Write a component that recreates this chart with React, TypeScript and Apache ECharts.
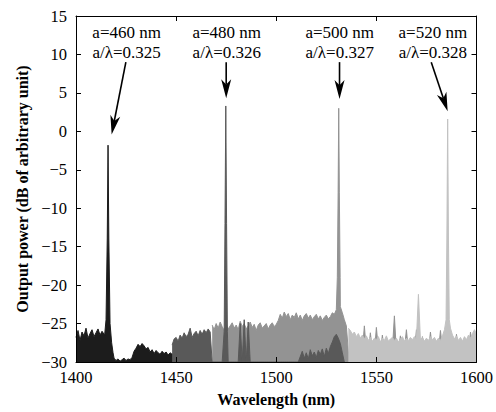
import React, { useEffect, useRef } from 'react';
import * as echarts from 'echarts';

// ---- x/y axes ----
const xMin = 1400;
const xMax = 1600;
const xStep = 50;
const yMin = -30;
const yMax = 15;
const yStep = 5;

// ---- a=460 nm spectrum (black) ----
const blackFromA = 1400;
const blackNoiseA = [-26.8, -25.9, -27.2, -26.1, -26.6, -25.6, -26.9, -26.3, -25.8, -26.7, -26.2, -25.7, -26.5, -26.0];
const blackPeak = [[1414.3, -26.5], [1415.0, -24.5], [1415.6, -14], [1416.0, -1.8], [1416.4, -14], [1417.0, -25], [1417.8, -27.5], [1418.5, -28.8]];
const blackFromB = 1419;
const blackNoiseB = [-29.5, -29.8, -29.6, -29.9, -29.7, -29.5, -29.8, -29.6, -29.7, -29.4,
  -28.6, -28.2, -27.7, -28.0, -27.6, -27.9, -28.3, -28.1, -28.7, -28.4, -28.9, -28.5, -28.8, -29.0, -28.6, -28.9, -28.7, -29.1, -28.8, -29.0, -28.9];

// ---- a=480 nm spectrum (dark grey) ----
const darkFromA = 1448;
const darkNoiseA = [-27.8, -27.0, -26.8, -27.3, -26.5, -26.9, -26.2, -26.7, -26.4, -25.6, -26.8, -26.3, -26.0, -26.6, -25.9, -26.4, -25.8, -26.2, -25.7, -26.1, -30, -30, -30, -30, -30, -30];
const darkPeak = [[1474.0, -26], [1474.4, -12], [1474.8, 3.3], [1475.2, -12], [1475.6, -26]];
const darkFromB = 1476;
const darkNoiseB = [-30, -30, -30, -30, -30, -30, -25.0, -30, -24.5, -30, -24.8, -30,
  -30, -30, -30, -30, -30, -30, -30, -30, -30, -30, -30, -30, -30, -30, -30, -30, -30, -30, -30, -30, -30, -30, -30,
  -30, -29.3, -28.6, -29.5, -28.8, -29.6, -28.4, -29.2, -28.7, -29.4, -28.5, -29.0, -28.3, -29.3, -28.2, -28.9, -28.0,
  -27.4, -26.7, -26.4, -26.9, -27.6, -28.8, -30];

// ---- a=500 nm spectrum (mid grey) ----
const midFromA = 1468;
const midNoiseA = [-25.2, -25.8, -25.0, -25.6, -24.8, -25.4, -25.9, -25.1, -25.7, -25.3, -24.9, -25.6, -25.2, -25.8, -24.7, -25.4, -25.0,
  -25.7, -25.3, -24.8, -25.5, -25.1, -25.9, -25.2, -24.9, -25.6, -25.3, -25.0, -25.7, -25.2, -24.9, -25.4, -25.1, -24.6,
  -23.8, -24.3, -23.5, -24.1, -23.7, -24.5, -23.9, -24.2, -23.6, -24.4, -23.9, -24.6, -24.0, -23.7, -24.3, -23.9, -24.5,
  -24.1, -23.8, -24.4, -24.0, -24.6, -24.2, -23.9, -24.4, -24.1, -23.6, -23.8, -23.2];
const midPeak = [[1530.5, -19], [1530.9, -8], [1531.2, 3.0], [1531.5, -8], [1531.9, -19]];
const midFromB = 1532;
const midNoiseB = [-22.8, -23.6, -24.5, -25.3, -28.6, -28.9, -28.4, -28.8, -28.5, -28.9, -28.3, -28.7, -25.3, -28.6, -28.8, -26.2,
  -28.5, -28.9, -25.5, -28.4, -28.7, -26.5, -28.8, -28.3, -28.6, -28.9, -28.4, -24.0, -28.7, -28.5, -26.6, -28.8, -28.4,
  -25.8, -28.6, -28.9, -28.3, -28.7, -25.8, -28.5, -28.8, -26.7, -28.4, -28.9, -28.6, -26.1, -28.5, -28.8, -28.3, -28.7,
  -25.9, -28.4, -28.0, -28.2, -28.1, -28.3, -28.6, -28.8, -26.4, -28.5, -28.9, -28.4, -26.8, -28.6, -28.7, -26.1, -28.5,
  -27.9, -28.3];

// ---- a=520 nm spectrum (light grey) ----
const lightFromA = 1536;
const lightNoiseA = [-25.6, -25.9, -26.4, -26.1, -26.7, -26.3, -26.9, -26.5, -27.0, -26.6, -27.2, -26.8, -27.3, -26.9, -27.1,
  -26.7, -27.4, -26.9, -27.2, -26.6, -27.3, -27.0, -26.8, -27.2, -26.9, -27.4, -27.0, -26.7, -27.3, -26.9, -27.2, -26.8,
  -27.1, -26.7, -27.0, -21.2, -27.1, -26.8, -27.3, -26.9, -27.2, -26.7, -27.1, -26.8, -27.3, -26.9, -27.2, -26.6, -25.8];
const lightPeak = [[1584.8, -24.5], [1585.2, -14], [1585.6, 1.6], [1586.0, -14], [1586.4, -24.5]];
const lightFromB = 1587;
const lightNoiseB = [-25.6, -26.5, -27.0, -26.6, -27.2, -26.8, -27.3, -26.7, -27.1, -26.5, -26.9, -26.3, -25.8, -26.4];

// ---- annotations ----
const labelA = ['a=460 nm', 'a=480 nm', 'a=500 nm', 'a=520 nm'];
const labelRatio = ['a/\u03bb=0.325', 'a/\u03bb=0.326', 'a/\u03bb=0.327', 'a/\u03bb=0.328'];
const labelX = [1425.3, 1475.3, 1531.7, 1578.2];
const labelY1 = 12.8;
const labelY2 = 10.2;
const arrowFrom = [[1424.9, 9.0], [1475.0, 9.0], [1531.6, 9.0], [1577.4, 9.0]];
const arrowTo = [[1417.8, -0.4], [1475.0, 4.3], [1531.6, 4.2], [1585.6, 2.6]];

const seq = (from: number, vals: number[]) => vals.map((v, i) => [from + i, v]);

const FONT = 'Liberation Serif';

export default function App() {
  const ref = useRef<HTMLDivElement>(null);
  useEffect(() => {
    document.body.style.margin = '0';
    const chart = echarts.init(ref.current!, undefined, { renderer: 'svg' });
    const mk = (name: string, color: string, data: number[][], z: number) => ({
      name,
      type: 'line',
      z,
      data,
      symbol: 'none',
      silent: true,
      lineStyle: { color, width: 1 },
      areaStyle: { color, opacity: 1, origin: 'start' },
    });
    const black = [...seq(blackFromA, blackNoiseA), ...blackPeak, ...seq(blackFromB, blackNoiseB)];
    const dark = [...seq(darkFromA, darkNoiseA), ...darkPeak, ...seq(darkFromB, darkNoiseB)];
    const mid = [...seq(midFromA, midNoiseA), ...midPeak, ...seq(midFromB, midNoiseB)];
    const light = [...seq(lightFromA, lightNoiseA), ...lightPeak, ...seq(lightFromB, lightNoiseB)];
    const axisCommon = {
      axisLine: { show: true, onZero: false, lineStyle: { color: '#000', width: 1 } },
      axisTick: { show: true, inside: true, length: 5, lineStyle: { color: '#000' } },
      splitLine: { show: false },
      z: 20,
    };
    chart.setOption({
      animation: false,
      backgroundColor: '#fff',
      grid: { left: 76, right: 19, top: 16, bottom: 47 },
      xAxis: [
        {
          type: 'value', min: xMin, max: xMax, interval: xStep, position: 'bottom',
          ...axisCommon,
          axisLabel: { color: '#000', fontSize: 16.5, fontFamily: FONT, margin: 7, formatter: (v: number) => String(v) },
          name: 'Wavelength (nm)', nameLocation: 'middle', nameGap: 29,
          nameTextStyle: { color: '#000', fontSize: 16, fontWeight: 'bold', fontFamily: FONT },
        },
        {
          type: 'value', min: xMin, max: xMax, interval: xStep, position: 'top',
          ...axisCommon, axisLabel: { show: false },
        },
      ],
      yAxis: [
        {
          type: 'value', min: yMin, max: yMax, interval: yStep, position: 'left',
          ...axisCommon,
          axisLabel: {
            color: '#000', fontSize: 16.5, fontFamily: FONT, margin: 9,
            formatter: (v: number) => String(v).replace('-', '\u2212'),
          },
          name: 'Output power (dB of arbitrary unit)', nameLocation: 'middle', nameGap: 46,
          nameTextStyle: { color: '#000', fontSize: 16, fontWeight: 'bold', fontFamily: FONT },
        },
        {
          type: 'value', min: yMin, max: yMax, interval: yStep, position: 'right',
          ...axisCommon, axisLabel: { show: false },
        },
      ],
      series: [
        mk('a=500 nm', '#939393', mid, 2),
        mk('a=520 nm', '#c2c2c2', light, 3),
        mk('a=460 nm', '#1c1c1c', black, 4),
        mk('a=480 nm', '#595959', dark, 5),
      ],
    });

    const px = (p: number[]) => chart.convertToPixel({ xAxisIndex: 0, yAxisIndex: 0 }, p) as number[];
    const graphics: any[] = [];
    labelA.forEach((t, i) => {
      const p1 = px([labelX[i], labelY1]);
      const p2 = px([labelX[i], labelY2]);
      graphics.push({ type: 'text', x: p1[0], y: p1[1], silent: true, z: 30,
        style: { text: t, fill: '#000', fontSize: 17, fontFamily: FONT, align: 'center', verticalAlign: 'middle' } });
      graphics.push({ type: 'text', x: p2[0], y: p2[1], silent: true, z: 30,
        style: { text: labelRatio[i], fill: '#000', fontSize: 17, fontFamily: FONT, align: 'center', verticalAlign: 'middle' } });
      const a = px(arrowFrom[i]);
      const b = px(arrowTo[i]);
      const dx = b[0] - a[0];
      const dy = b[1] - a[1];
      const len = Math.hypot(dx, dy);
      const ux = dx / len, uy = dy / len;
      const nx = -uy, ny = ux;
      const L = 19, W = 5;
      const base = [b[0] - ux * L, b[1] - uy * L];
      const notch = [b[0] - ux * L * 0.72, b[1] - uy * L * 0.72];
      graphics.push({ type: 'line', silent: true, z: 30,
        shape: { x1: a[0], y1: a[1], x2: notch[0], y2: notch[1] },
        style: { stroke: '#000', lineWidth: 1.6 } });
      graphics.push({ type: 'polygon', silent: true, z: 30,
        shape: { points: [b, [base[0] + nx * W, base[1] + ny * W], notch, [base[0] - nx * W, base[1] - ny * W]] },
        style: { fill: '#000' } });
    });
    chart.setOption({ graphic: graphics });
    return () => chart.dispose();
  }, []);
  return <div ref={ref} style={{ width: 496, height: 412 }} />;
}
